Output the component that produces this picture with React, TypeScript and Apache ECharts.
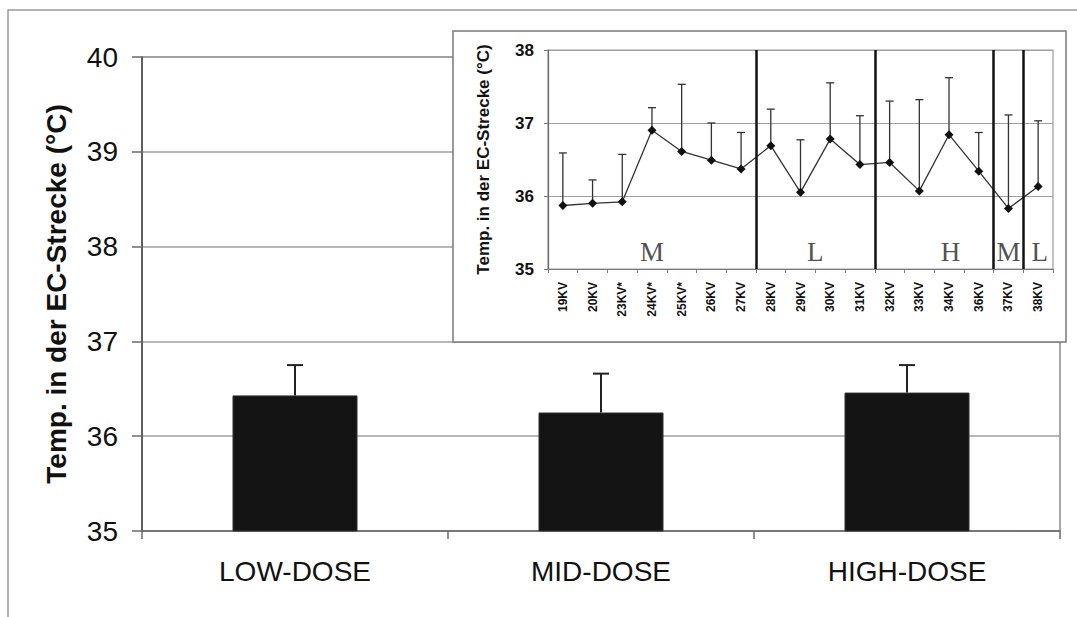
import React, { useEffect, useRef } from "react";
import * as echarts from "echarts";

// Main chart: mean temperature per dose group with upward SD bars
const mainCategories = ["LOW-DOSE", "MID-DOSE", "HIGH-DOSE"];
const mainMeans = [36.43, 36.25, 36.46];
const mainErrors = [0.32, 0.41, 0.29];
const mainMin = 35;
const mainMax = 40;

// Inset: mean temperature per animal (KV) with upward SD bars
const insetCategories = [
  "19KV", "20KV", "23KV*", "24KV*", "25KV*", "26KV", "27KV",
  "28KV", "29KV", "30KV", "31KV",
  "32KV", "33KV", "34KV", "36KV",
  "37KV", "38KV",
];
const insetMeans = [
  35.87, 35.9, 35.92, 36.9, 36.61, 36.49, 36.37,
  36.69, 36.05, 36.78, 36.43,
  36.46, 36.07, 36.84, 36.34,
  35.83, 36.13,
];
const insetErrors = [
  0.72, 0.32, 0.65, 0.31, 0.92, 0.51, 0.5,
  0.5, 0.72, 0.77, 0.67,
  0.84, 1.25, 0.78, 0.53,
  1.28, 0.9,
];
const insetMin = 35;
const insetMax = 38;

// Dose groups in the inset: boundaries (in category units) and letters
const groupBoundaries = [7, 11, 15, 16];
const groupLetters = ["M", "L", "H", "M", "L"];
const groupCenters = [3.5, 9, 13.55, 15.5, 16.55];
const groupLetterLevel = 35.23;

const SANS = "'Liberation Sans', Arial, Helvetica, sans-serif";
const SERIF = "'Liberation Serif', 'Times New Roman', serif";

function errorBarRenderer(capHalf: number, color: string, width: number) {
  return (params: any, api: any) => {
    const i = api.value(0);
    const base = api.coord([i, api.value(1)]);
    const top = api.coord([i, api.value(2)]);
    return {
      type: "group",
      children: [
        {
          type: "line",
          shape: { x1: base[0], y1: base[1], x2: top[0], y2: top[1] },
          style: { stroke: color, lineWidth: width },
        },
        {
          type: "line",
          shape: { x1: top[0] - capHalf, y1: top[1], x2: top[0] + capHalf, y2: top[1] },
          style: { stroke: color, lineWidth: width },
        },
      ],
    };
  };
}

export default function App() {
  const ref = useRef<HTMLDivElement>(null);

  useEffect(() => {
    if (!ref.current) return;
    const chart = echarts.init(ref.current, undefined, { renderer: "svg" });

    const mainErrData = mainMeans.map((m, i) => [i, m, +(m + mainErrors[i]).toFixed(3)]);
    const insetErrData = insetMeans.map((m, i) => [i, m, +(m + insetErrors[i]).toFixed(3)]);
    const letterData = groupLetters.map((t, i) => [groupCenters[i], groupLetterLevel, t]);

    chart.setOption({
      animation: false,
      backgroundColor: "#ffffff",
      graphic: [
        {
          type: "rect",
          z: -10,
          shape: { x: 8, y: 10, width: 1300, height: 900 },
          style: { fill: "none", stroke: "#9a9a9a", lineWidth: 1.5 },
        },
        {
          type: "rect",
          z: 20,
          shape: { x: 453, y: 31, width: 613, height: 311 },
          style: { fill: "#ffffff", stroke: "#7a7a7a", lineWidth: 1.5 },
        },
      ],
      grid: [
        {
          left: 142,
          top: 57,
          right: 17,
          bottom: 86,
          show: true,
          borderColor: "#8a8a8a",
          borderWidth: 1.5,
        },
        {
          left: 548,
          top: 50,
          right: 24,
          bottom: 348,
          show: true,
          z: 21,
          borderColor: "#9a9a9a",
          borderWidth: 1.2,
        },
      ],
      xAxis: [
        {
          type: "category",
          gridIndex: 0,
          data: mainCategories,
          boundaryGap: true,
          axisLine: { lineStyle: { color: "#6a6a6a", width: 1.5 } },
          axisTick: { show: true, length: 8, alignWithLabel: false, lineStyle: { color: "#6a6a6a", width: 1.5 } },
          axisLabel: { fontFamily: SANS, fontSize: 28, color: "#111111", margin: 26 },
        },
        {
          type: "category",
          gridIndex: 1,
          z: 22,
          data: insetCategories,
          boundaryGap: true,
          axisLine: { lineStyle: { color: "#7a7a7a", width: 1.2 } },
          axisTick: { show: true, length: 4, alignWithLabel: false, lineStyle: { color: "#7a7a7a" } },
          axisLabel: {
            fontFamily: SANS,
            fontSize: 12,
            fontWeight: "bold",
            color: "#111111",
            rotate: 90,
            interval: 0,
            margin: 13,
          },
        },
        {
          type: "value",
          gridIndex: 1,
          min: 0,
          max: insetCategories.length,
          show: false,
        },
      ],
      yAxis: [
        {
          type: "value",
          gridIndex: 0,
          min: mainMin,
          max: mainMax,
          interval: 1,
          name: "Temp. in der EC-Strecke (°C)",
          nameLocation: "middle",
          nameGap: 72,
          nameTextStyle: { fontFamily: SANS, fontSize: 28, fontWeight: "bold", color: "#111111" },
          axisLine: { show: true, lineStyle: { color: "#4a4a4a", width: 1.5 } },
          axisTick: { show: true, length: 10, lineStyle: { color: "#6a6a6a", width: 1.5 } },
          axisLabel: { fontFamily: SANS, fontSize: 28, color: "#111111", margin: 24 },
          splitLine: { show: true, lineStyle: { color: "#a0a0a0", width: 1.5 } },
        },
        {
          type: "value",
          gridIndex: 1,
          z: 22,
          min: insetMin,
          max: insetMax,
          interval: 1,
          name: "Temp. in der EC-Strecke (°C)",
          nameLocation: "middle",
          nameGap: 56,
          nameTextStyle: { fontFamily: SANS, fontSize: 17, fontWeight: "bold", color: "#111111" },
          axisLine: { show: true, lineStyle: { color: "#6a6a6a", width: 1.2 } },
          axisTick: { show: true, length: 4, lineStyle: { color: "#7a7a7a" } },
          axisLabel: { fontFamily: SANS, fontSize: 17, fontWeight: "bold", color: "#111111", margin: 14 },
          splitLine: { show: true, lineStyle: { color: "#a0a0a0", width: 1.2 } },
        },
      ],
      series: [
        {
          type: "bar",
          xAxisIndex: 0,
          yAxisIndex: 0,
          data: mainMeans,
          barWidth: 125,
          itemStyle: { color: "#141414", borderColor: "#303030", borderWidth: 1 },
          z: 2,
        },
        {
          type: "custom",
          xAxisIndex: 0,
          yAxisIndex: 0,
          data: mainErrData,
          encode: { x: 0, y: [1, 2] },
          renderItem: errorBarRenderer(8, "#222222", 2),
          z: 3,
        },
        {
          type: "custom",
          xAxisIndex: 1,
          yAxisIndex: 1,
          data: insetErrData,
          encode: { x: 0, y: [1, 2] },
          renderItem: errorBarRenderer(4, "#333333", 1.3),
          z: 23,
        },
        {
          type: "line",
          xAxisIndex: 1,
          yAxisIndex: 1,
          data: insetMeans,
          symbol: "diamond",
          symbolSize: 9,
          itemStyle: { color: "#111111" },
          lineStyle: { color: "#333333", width: 1.3 },
          z: 24,
        },
        {
          type: "scatter",
          xAxisIndex: 2,
          yAxisIndex: 1,
          data: letterData,
          symbolSize: 0,
          z: 25,
          label: {
            show: true,
            position: "inside",
            formatter: (p: any) => p.data[2],
            fontFamily: SERIF,
            fontSize: 27,
            color: "#222222",
          },
          markLine: {
            silent: true,
            z: 26,
            symbol: "none",
            label: { show: false },
            lineStyle: { color: "#111111", width: 2.5, type: "solid" },
            data: groupBoundaries.map((b) => ({ xAxis: b })),
          },
        },
      ],
    });

    return () => chart.dispose();
  }, []);

  return (
    <div
      ref={ref}
      style={{ position: "fixed", left: 0, top: 0, width: 1077, height: 617, background: "#fff" }}
    />
  );
}
